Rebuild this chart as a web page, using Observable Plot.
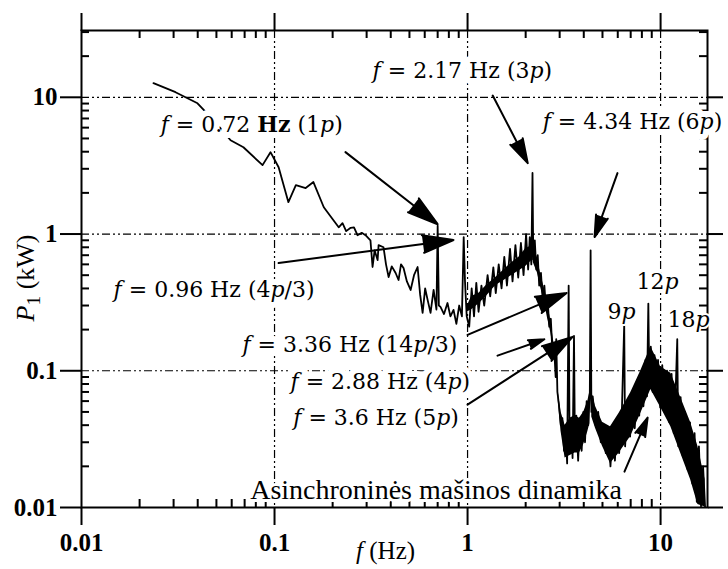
<!DOCTYPE html>
<html>
<head>
<meta charset="utf-8">
<script src="https://cdn.jsdelivr.net/npm/d3@7"></script>
<script src="https://cdn.jsdelivr.net/npm/@observablehq/plot@0.6"></script>
<style>
  html, body { margin: 0; padding: 0; background: white; }
</style>
</head>
<body>
<div id="chart"></div>
<script>
// ---- data ----
const specFreq = [0.0236,0.0307,0.0399,0.0494,0.0592,0.069,0.0867,0.0953,0.105,0.118,0.129,0.145,0.159,0.180,0.202,0.215,0.225,0.235,0.248,0.258,0.269,0.283,0.296,
  0.314,0.322,0.330,0.342,0.346,0.367,0.378,0.390,0.405,0.424,0.439,0.452,0.466,0.485,0.507,0.528,0.551,0.568,0.585,0.603,0.621,0.643,0.667,0.690,0.700,0.710,0.724,0.755,0.787,0.815,0.846,0.875,0.905,0.935,0.955,0.970,0.990,
  1.02,1.05,1.08,1.11,1.14,1.18,1.22,1.27,1.31,1.36,1.40,1.45,1.50,1.55,1.60,1.66,1.71,1.77,1.83,1.89,1.95,2.01,2.06,2.10,2.14,2.17,2.19,2.23,2.27,2.31,2.35,2.40,2.45,2.50,2.55,2.60,2.65,2.70,2.75,2.80,2.86,2.88,2.92,2.98,
  3.04,3.10,3.16,3.22,3.28,3.34,3.38,3.44,3.50,3.56,3.60,3.66,3.74,3.82,3.90,3.98,4.06,4.14,4.22,4.30,4.34,4.38,
  4.45,4.6,4.75,4.9,5.05,5.2,5.35,5.5,5.65,5.8,5.95,6.1,6.3,6.48,6.55,6.75,6.95,7.15,7.35,7.55,7.75,7.95,8.15,8.35,8.5,8.64,8.75,8.9,9.1,9.3,9.5,9.7,9.95,
  10.2,10.5,10.8,11.1,11.4,11.7,12.0,12.2,12.35,12.7,13.0,13.4,13.8,14.2,14.6,15.0,15.4,15.8,16.2,16.6,17.0];
const specPower = [12.7,10.9,9.04,6.58,4.85,4.31,3.19,3.97,3.08,1.71,2.28,2.17,2.40,1.57,1.26,1.12,1.2,1.05,1.11,1.12,0.98,1.02,0.98,
  0.90,0.574,0.76,0.645,0.83,0.80,0.6,0.485,0.58,0.519,0.461,0.6,0.565,0.45,0.39,0.5,0.574,0.36,0.265,0.4,0.33,0.265,0.39,0.28,1.15,0.30,0.293,0.26,0.313,0.25,0.279,0.22,0.3,0.25,0.95,0.45,0.25,
  0.21,0.4,0.25,0.44,0.27,0.42,0.3,0.5,0.35,0.57,0.37,0.6,0.40,0.68,0.42,0.78,0.45,0.83,0.48,0.86,0.5,1.0,0.55,0.95,0.6,2.8,0.65,0.9,0.55,0.7,0.42,0.52,0.33,0.42,0.28,0.33,0.21,0.24,0.14,0.16,0.09,0.17,0.07,0.055,
  0.04,0.045,0.026,0.038,0.021,0.42,0.025,0.045,0.023,0.18,0.027,0.047,0.022,0.045,0.026,0.05,0.03,0.06,0.04,0.07,0.76,0.05,
  0.065,0.040,0.050,0.030,0.040,0.025,0.038,0.020,0.040,0.022,0.045,0.025,0.050,0.22,0.028,0.060,0.033,0.070,0.038,0.085,0.047,0.10,0.055,0.12,0.065,0.31,0.075,0.15,0.07,0.13,0.065,0.12,0.054,
  0.11,0.05,0.10,0.042,0.095,0.035,0.08,0.17,0.028,0.064,0.024,0.05,0.019,0.042,0.015,0.035,0.011,0.028,0.0102,0.02,0.0101];

// dense-noise envelope of the spectrum (lower / upper edge of the black band)
const bandSeg  = ["a","a","a","a","a","a","a","a","a","a",
                  "b","b","b","b","b","b","b",
                  "c","c","c","c","c","c","c","c","c",
                  "d","d","d","d","d","d","d","d","d","d","d","d","d","d"];
const bandFreq = [1.00,1.05,1.15,1.25,1.40,1.55,1.70,1.85,2.00,2.15,
                  2.19,2.30,2.40,2.50,2.60,2.70,2.80,
                  2.95,3.05,3.20,3.40,3.60,3.80,4.00,4.20,4.30,
                  4.40,4.60,5.00,5.50,6.10,7.00,7.90,8.90,10.0,11.3,12.7,14.3,15.6,17.0];
const bandLow  = [0.27,0.28,0.31,0.35,0.42,0.46,0.50,0.54,0.58,0.64,
                  0.62,0.52,0.40,0.32,0.24,0.19,0.135,
                  0.06,0.036,0.023,0.024,0.025,0.025,0.029,0.036,0.041,
                  0.046,0.038,0.028,0.021,0.025,0.033,0.049,0.073,0.054,0.039,0.025,0.016,0.0105,0.0101];
const bandHigh = [0.30,0.35,0.37,0.42,0.48,0.55,0.62,0.68,0.78,0.82,
                  0.82,0.66,0.50,0.40,0.31,0.23,0.16,
                  0.07,0.05,0.04,0.045,0.047,0.045,0.05,0.06,0.07,
                  0.07,0.055,0.042,0.039,0.049,0.069,0.10,0.15,0.107,0.096,0.064,0.042,0.028,0.016];

const xMajor = [0.01, 0.1, 1, 10];
const xTickLabels = ["0.01", "0.1", "1", "10"];
const yMajor = [0.01, 0.1, 1, 10];
const yTickLabels = ["0.01", "0.1", "1", "10"];
const xMinor = [0.02,0.03,0.04,0.05,0.06,0.07,0.08,0.09,0.2,0.3,0.4,0.5,0.6,0.7,0.8,0.9,2,3,4,5,6,7,8,9];
const yMinor = [0.02,0.03,0.04,0.05,0.06,0.07,0.08,0.09,0.2,0.3,0.4,0.5,0.6,0.7,0.8,0.9,2,3,4,5,6,7,8,9,20,30];
const gridDecades = [0.1, 1, 10];

// annotation labels (markup: *italic*, ~bold~, _subscript_)
const annText = ["*f* = 0.72 ~Hz~ (1*p*)", "*f* = 0.96 Hz (4*p*/3)", "*f* = 2.17 Hz (3*p*)", "*f* = 4.34 Hz (6*p*)",
                 "*f* = 3.36 Hz (14*p*/3)", "*f* = 2.88 Hz (4*p*)", "*f* = 3.6 Hz (5*p*)"];
const annX = [0.0257, 0.01466, 0.322, 2.45, 0.0682, 0.121, 0.125];
const annY = [6.25, 0.39, 15.5, 6.58, 0.155, 0.0832, 0.0454];
const harmText = ["9*p*", "12*p*", "18*p*"];
const harmX = [6.28, 9.64, 13.97];
const harmY = [0.27, 0.447, 0.235];
const noteText = ["Asinchroninės mašinos dinamika"];
const noteX = [0.687];
const noteY = [0.0135];

// arrows: start (x1,y1) -> tip (x2,y2)
const arrX1 = [0.233, 0.105, 1.35, 5.98, 1.0, 1.43, 1.0, 6.50];
const arrY1 = [3.97, 0.614, 10.3, 2.79, 0.183, 0.129, 0.0565, 0.0183];
const arrX2 = [0.70, 0.846, 2.05, 4.55, 3.26, 2.50, 3.50, 8.57];
const arrY2 = [1.18, 0.904, 3.30, 0.95, 0.371, 0.170, 0.177, 0.0454];

// axis titles and their anchor positions (outside the frame)
const xTitle = ["*f* (Hz)"];
const xTitleX = [0.376];
const xTitleY = [0.0048];
const yTitle = ["*P*_1_ (kW)"];
const yTitleX = [0.00513];
const yTitleY = [0.477];

// ---- build tables ----
const spectrum = specFreq.map((f, i) => ({f, P: specPower[i]}));
const band = bandFreq.map((f, i) => ({f, lo: bandLow[i], hi: bandHigh[i], seg: bandSeg[i]}));
const ann = annText.map((t, i) => ({t, x: annX[i], y: annY[i]}));
const harm = harmText.map((t, i) => ({t, x: harmX[i], y: harmY[i]}));
const note = noteText.map((t, i) => ({t, x: noteX[i], y: noteY[i]}));
const arrows = arrX1.map((x1, i) => ({x1, y1: arrY1[i], x2: arrX2[i], y2: arrY2[i]}));
const xT = xTitle.map((t, i) => ({t, x: xTitleX[i], y: xTitleY[i]}));
const yT = yTitle.map((t, i) => ({t, x: yTitleX[i], y: yTitleY[i]}));

const serif = "'Liberation Serif', 'Times New Roman', serif";
const wide = "'DejaVu Serif', serif";
const dash = "8,3,2,3,2,3";
const FW = 626, FH = 477, minorLen = 8;

const annOpts = {x: "x", y: "y", text: "t", textAnchor: "start", fontSize: 22, fontFamily: wide};
const harmOpts = {x: "x", y: "y", text: "t", textAnchor: "middle", fontSize: 22, fontFamily: wide};
const noteOpts = {x: "x", y: "y", text: "t", textAnchor: "middle", fontSize: 28, fontFamily: serif};

const chart = Plot.plot({
  width: 728, height: 569,
  marginLeft: 81, marginRight: 21, marginTop: 30, marginBottom: 62,
  x: {type: "log", domain: [0.01, 17.5]},
  y: {type: "log", domain: [0.01, 30.8]},
  style: {fontFamily: serif, background: "white", color: "black"},
  marks: [
    Plot.gridX(gridDecades, {stroke: "black", strokeOpacity: 1, strokeWidth: 1.2, strokeDasharray: dash}),
    Plot.gridY(gridDecades, {stroke: "black", strokeOpacity: 1, strokeWidth: 1.2, strokeDasharray: dash}),
    Plot.frame({stroke: "black", strokeWidth: 2}),
    // minor ticks, inward
    Plot.tickX(xMinor, {insetTop: FH - minorLen, stroke: "black", strokeWidth: 2}),
    Plot.tickX(xMinor, {insetBottom: FH - minorLen, stroke: "black", strokeWidth: 2}),
    Plot.tickY(yMinor, {insetRight: FW - minorLen, stroke: "black", strokeWidth: 2}),
    Plot.tickY(yMinor, {insetLeft: FW - minorLen, stroke: "black", strokeWidth: 2}),
    // major ticks, outward, with labels
    Plot.axisX(xMajor, {anchor: "bottom", tickSize: 18, tickPadding: 8, strokeWidth: 2,
      tickFormat: d => xTickLabels[xMajor.indexOf(d)], fontSize: 25, fontWeight: "bold", label: null}),
    Plot.axisX(xMajor, {anchor: "top", tickSize: 18, strokeWidth: 2, tickFormat: () => "", label: null}),
    Plot.axisY(yMajor, {anchor: "left", tickSize: 21, tickPadding: 3, strokeWidth: 2,
      tickFormat: d => yTickLabels[yMajor.indexOf(d)], fontSize: 25, fontWeight: "bold", label: null}),
    Plot.axisY(yMajor, {anchor: "right", tickSize: 15, strokeWidth: 2, tickFormat: () => "", label: null}),
    // spectrum
    Plot.areaY(band, {x: "f", y1: "lo", y2: "hi", z: "seg", fill: "black"}),
    Plot.line(spectrum, {x: "f", y: "P", stroke: "black", strokeWidth: 1.8}),
    // label halos, then labels
    Plot.text(ann, {...annOpts, fill: "white", stroke: "white", strokeWidth: 12}),
    Plot.text(harm, {...harmOpts, fill: "white", stroke: "white", strokeWidth: 4}),
    Plot.text(note, {...noteOpts, fill: "white", stroke: "white", strokeWidth: 6}),
    Plot.text(ann, {...annOpts, fill: "black"}),
    Plot.text(harm, {...harmOpts, fill: "black"}),
    Plot.text(note, {...noteOpts, fill: "black"}),
    Plot.arrow(arrows, {x1: "x1", y1: "y1", x2: "x2", y2: "y2", stroke: "black", strokeWidth: 2,
      headLength: 24, headAngle: 32}),
    // axis titles
    Plot.text(xT, {x: "x", y: "y", text: "t", textAnchor: "middle", fontSize: 25, fontFamily: serif, fill: "black"}),
    Plot.text(yT, {x: "x", y: "y", text: "t", textAnchor: "middle", rotate: -90, fontSize: 26, fontFamily: serif, fill: "black"})
  ]
});

// rich text: *italic*, ~bold~, _subscript_
const NS = "http://www.w3.org/2000/svg";
chart.querySelectorAll("text").forEach(t => {
  const s = t.textContent;
  if (!/[*~_]/.test(s)) return;
  while (t.firstChild) t.removeChild(t.firstChild);
  const parts = s.split(/(\*[^*]+\*|~[^~]+~|_[^_]+_)/).filter(p => p.length);
  let shifted = false;
  for (const p of parts) {
    const ts = document.createElementNS(NS, "tspan");
    if (p[0] === "*") { ts.textContent = p.slice(1, -1); ts.setAttribute("font-style", "italic"); }
    else if (p[0] === "~") { ts.textContent = p.slice(1, -1); ts.setAttribute("font-weight", "bold"); }
    else if (p[0] === "_") { ts.textContent = p.slice(1, -1); ts.setAttribute("font-size", "75%"); ts.setAttribute("dy", "0.3em"); shifted = true; }
    else { ts.textContent = p; }
    if (p[0] !== "_" && shifted) { ts.setAttribute("dy", "-0.22em"); shifted = false; }
    t.appendChild(ts);
  }
});
// filled arrowheads
chart.querySelectorAll('g[aria-label="arrow"] path').forEach(p => p.setAttribute("fill", "black"));

document.getElementById("chart").appendChild(chart);
</script>
</body>
</html>
